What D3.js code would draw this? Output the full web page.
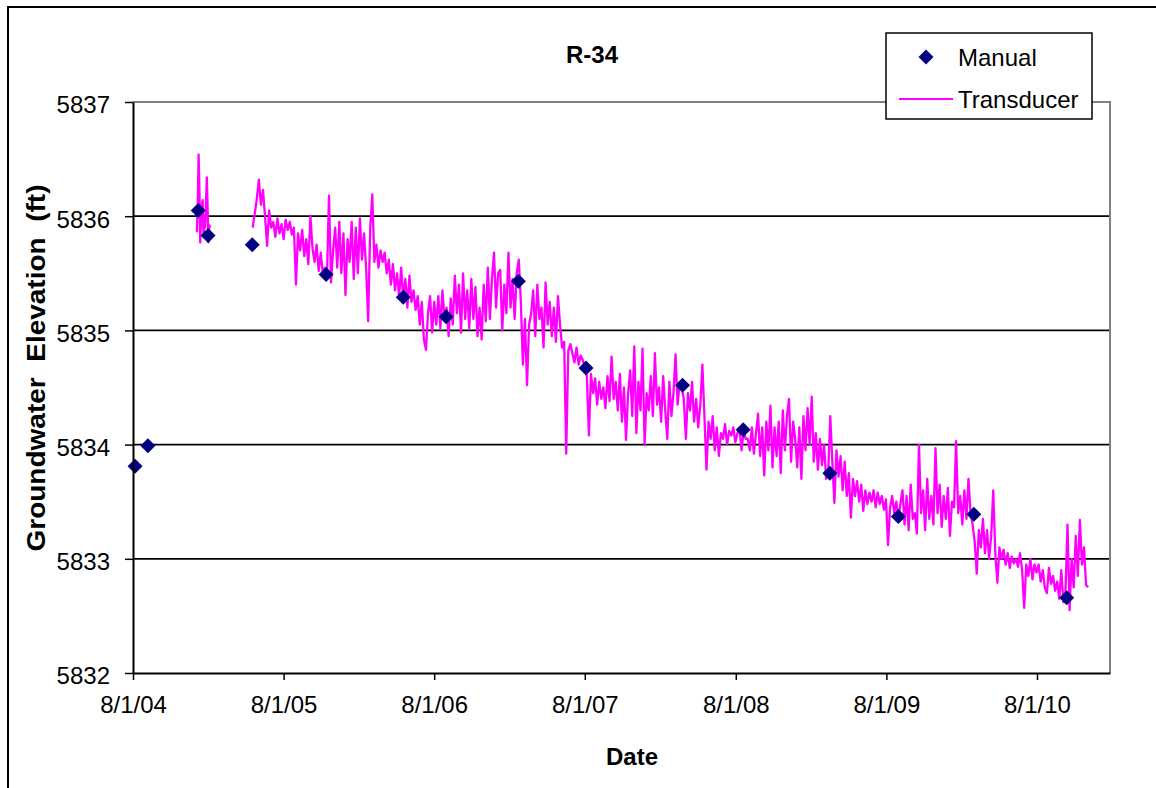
<!DOCTYPE html>
<html>
<head>
<meta charset="utf-8">
<script src="https://cdn.jsdelivr.net/npm/d3@7"></script>
<style>
  html, body { margin: 0; padding: 0; background: #fff; }
  svg { display: block; font-family: "Liberation Sans", Arial, sans-serif; }
</style>
</head>
<body>
<svg id="chart" width="1156" height="788"></svg>
<script>
// ---------------- DATA ----------------
const chartTitle = "R-34";
const xAxisTitle = "Date";
const yAxisTitle = "Groundwater  Elevation  (ft)";
const seriesNames = ["Manual", "Transducer"];

const yTickValues = [5832, 5833, 5834, 5835, 5836, 5837];
const xTickDates = ["2004-08-01", "2005-08-01", "2006-08-01", "2007-08-01", "2008-08-01", "2009-08-01", "2010-08-01"];
const xDomainDates = ["2004-08-01", "2011-01-25"];

// Manual measurements
const manualDates = ["2004-08-06", "2004-09-06", "2005-01-06", "2005-01-30", "2005-05-17", "2005-11-12",
  "2006-05-18", "2006-08-30", "2007-02-21", "2007-08-04", "2008-03-25", "2008-08-19",
  "2009-03-17", "2009-08-30", "2010-03-01", "2010-10-12"];
const manualValues = [5833.81, 5833.99, 5836.05, 5835.83, 5835.75, 5835.49,
  5835.29, 5835.12, 5835.43, 5834.67, 5834.52, 5834.13,
  5833.75, 5833.37, 5833.39, 5832.66];

// Transducer record, segment A (readings every 2 days)
const transducerAStart = "2005-01-03";
const transducerAStepDays = 2;
const transducerA = [5835.86, 5836.14, 5836.54, 5836.23, 5835.77, 5836.01, 5836.10, 5836.14, 5835.83,
  5835.95, 5835.90, 5836.14, 5836.34, 5836.05, 5835.77, 5835.92, 5835.90];

// Transducer record, segment B (readings every 5 days)
const transducerBStart = "2005-05-18";
const transducerBStepDays = 5;
const transducerB = [
  5835.90, 5836.02, 5836.15, 5836.32, 5836.10,
  5836.23, 5836.00, 5835.74, 5836.05, 5835.90,
  5835.95, 5835.82, 5835.98, 5835.85, 5835.93,
  5835.80, 5835.97, 5835.88, 5835.95, 5835.84,
  5835.90, 5835.40, 5835.85, 5835.70, 5835.88,
  5835.65, 5835.80, 5835.58, 5836.00, 5835.72,
  5835.60, 5835.75, 5835.52, 5835.68, 5835.50,
  5835.55, 5835.45, 5836.18, 5835.42, 5835.70,
  5835.90, 5835.55, 5835.95, 5835.50, 5835.85,
  5835.31, 5835.80, 5835.60, 5835.95, 5835.45,
  5835.90, 5835.50, 5835.98, 5835.62, 5835.85,
  5835.55, 5835.08, 5835.90, 5836.19, 5835.60,
  5835.75, 5835.55, 5835.70, 5835.60, 5835.68,
  5835.50, 5835.62, 5835.40, 5835.58, 5835.35,
  5835.50, 5835.30, 5835.55, 5835.28, 5835.45,
  5835.20, 5835.48, 5835.25, 5835.35, 5835.18,
  5835.30, 5835.05, 5835.25, 5834.92, 5834.83,
  5835.15, 5835.30, 5834.98, 5835.25, 5835.05,
  5835.30, 5835.02, 5835.35, 5835.10, 5835.20,
  5834.95, 5835.28, 5835.05, 5835.48, 5835.15,
  5835.40, 5834.98, 5835.50, 5835.10, 5835.35,
  5835.02, 5835.45, 5835.10, 5835.38, 5834.95,
  5835.20, 5834.92, 5835.40, 5835.08, 5835.55,
  5835.10, 5835.45, 5835.68, 5835.20, 5835.50,
  5835.53, 5835.00, 5835.40, 5835.15, 5835.68,
  5835.20, 5835.45, 5835.10, 5835.50, 5835.62,
  5835.25, 5834.70, 5835.10, 5834.52, 5835.05,
  5835.15, 5835.35, 5834.95, 5835.40, 5835.10,
  5835.20, 5834.85, 5835.42, 5835.05, 5835.25,
  5834.95, 5835.20, 5834.90, 5835.30, 5835.05,
  5834.85, 5834.90, 5833.92, 5834.82, 5834.88,
  5834.80, 5834.72, 5834.85, 5834.70, 5834.78,
  5834.74, 5834.68, 5834.60, 5834.08, 5834.62,
  5834.45, 5834.58, 5834.35, 5834.55, 5834.40,
  5834.50, 5834.32, 5834.60, 5834.38, 5834.77,
  5834.40, 5834.55, 5834.30, 5834.62, 5834.20,
  5834.50, 5834.04, 5834.45, 5834.65, 5834.25,
  5834.86, 5834.10, 5834.55, 5834.30, 5834.84,
  5834.00, 5834.45, 5834.30, 5834.60, 5834.25,
  5834.80, 5834.35, 5834.50, 5834.20, 5834.60,
  5834.30, 5834.05, 5834.55, 5834.25, 5834.45,
  5834.79, 5834.35, 5834.55, 5834.50, 5834.40,
  5834.05, 5834.45, 5834.30, 5834.55, 5834.20,
  5834.40, 5834.15, 5834.35, 5834.70, 5834.25,
  5833.78, 5834.20, 5834.05, 5834.25, 5833.95,
  5834.15, 5833.90, 5834.10, 5834.05, 5834.18,
  5834.00, 5834.12, 5834.08, 5834.15, 5834.02,
  5834.10, 5834.14, 5833.95, 5834.12, 5834.05,
  5834.05, 5833.95, 5834.15, 5833.92, 5834.10,
  5834.27, 5833.90, 5834.15, 5833.73, 5834.20,
  5833.95, 5834.34, 5833.80, 5834.15, 5833.90,
  5834.20, 5833.75, 5834.30, 5833.95, 5834.25,
  5834.40, 5833.85, 5834.20, 5834.05, 5833.80,
  5834.15, 5833.70, 5834.25, 5833.95, 5834.32,
  5834.00, 5834.42, 5833.85, 5834.10, 5833.78,
  5834.05, 5833.82, 5834.00, 5833.70, 5833.75,
  5834.25, 5833.85, 5833.49, 5833.95, 5833.72,
  5833.90, 5833.60, 5833.85, 5833.55, 5833.75,
  5833.36, 5833.70, 5833.55, 5833.68, 5833.50,
  5833.65, 5833.42, 5833.60, 5833.48, 5833.58,
  5833.50, 5833.60, 5833.45, 5833.58, 5833.48,
  5833.55, 5833.43, 5833.52, 5833.12, 5833.45,
  5833.55, 5833.40, 5833.50, 5833.35, 5833.48,
  5833.60, 5833.30, 5833.55, 5833.25, 5833.65,
  5833.35, 5833.40, 5833.22, 5834.00, 5833.40,
  5833.60, 5833.25, 5833.70, 5833.35, 5833.55,
  5833.30, 5833.97, 5833.40, 5833.65, 5833.28,
  5833.55, 5833.35, 5833.62, 5833.20, 5833.50,
  5833.45, 5834.03, 5833.40, 5833.55, 5833.30,
  5833.60, 5833.35, 5833.70, 5833.40, 5833.30,
  5833.15, 5832.87, 5833.25, 5833.10, 5833.35,
  5833.05, 5833.25, 5833.00, 5833.20, 5833.60,
  5833.05, 5832.79, 5833.10, 5833.00, 5833.08,
  5832.95, 5833.05, 5832.92, 5833.02, 5832.96,
  5833.00, 5832.93, 5833.05, 5832.90, 5832.57,
  5832.95, 5832.85, 5833.00, 5832.82, 5832.95,
  5832.88, 5832.95, 5832.80, 5832.90, 5832.75,
  5832.70, 5832.92, 5832.78, 5832.85, 5832.72,
  5832.80, 5832.65, 5832.90, 5832.62, 5832.70,
  5833.30, 5832.55, 5833.00, 5832.75, 5833.20,
  5832.85, 5833.34, 5832.95, 5833.10, 5832.77,
  5832.75
];

// ---------------- DRAW ----------------
const parse = d3.utcParse("%Y-%m-%d");
const fmt = d3.utcFormat("%-m/%-d/%y");
const svg = d3.select("#chart");
const FONT = 24;

const plotL = 133, plotR = 1110, plotT = 102, plotB = 673;

const x = d3.scaleUtc().domain(xDomainDates.map(parse)).range([plotL, plotR]);
const y = d3.scaleLinear().domain([yTickValues[0], yTickValues[yTickValues.length - 1]]).range([plotB, plotT]);

// chart frame
svg.append("rect").attr("x", 8).attr("y", 7).attr("width", 1160).attr("height", 800)
  .attr("fill", "#fff").attr("stroke", "#000").attr("stroke-width", 2);

// gridlines
svg.append("g").selectAll("line")
  .data(yTickValues.slice(1, -1))
  .join("line")
  .attr("x1", plotL).attr("x2", plotR)
  .attr("y1", d => y(d)).attr("y2", d => y(d))
  .attr("stroke", "#000").attr("stroke-width", 1.8);

// plot area border (top & right, grey)
svg.append("path")
  .attr("d", `M${plotL},${y(yTickValues[yTickValues.length - 1])}H${plotR}V${plotB}`)
  .attr("fill", "none").attr("stroke", "#808080").attr("stroke-width", 2);

// transducer series
function segment(start, step, vals) {
  const s = parse(start);
  return vals.map((v, i) => ({ date: d3.utcDay.offset(s, i * step), value: v }));
}
const segs = [
  segment(transducerAStart, transducerAStepDays, transducerA),
  segment(transducerBStart, transducerBStepDays, transducerB)
];
const line = d3.line().x(d => x(d.date)).y(d => y(d.value));
svg.append("g").selectAll("path")
  .data(segs)
  .join("path")
  .attr("d", line)
  .attr("fill", "none").attr("stroke", "#FF00FF").attr("stroke-width", 2.3)
  .attr("stroke-linejoin", "round");

// manual diamonds
const manual = manualDates.map((d, i) => ({ date: parse(d), value: manualValues[i] }));
const diamond = (cx, cy, r) => `M${cx},${cy - r}L${cx + r},${cy}L${cx},${cy + r}L${cx - r},${cy}Z`;
svg.append("g").selectAll("path")
  .data(manual)
  .join("path")
  .attr("d", d => diamond(x(d.date), y(d.value), 7.5))
  .attr("fill", "#000080");

// axes
const yAxis = d3.axisLeft(y).tickValues(yTickValues).tickSize(8).tickSizeOuter(0).tickPadding(15).tickFormat(d3.format("d"));
const gy = svg.append("g").attr("transform", `translate(${plotL},0)`).call(yAxis);
gy.select(".domain").attr("stroke", "#000").attr("stroke-width", 2);
gy.selectAll(".tick line").attr("stroke", "#000").attr("stroke-width", 1.5);
gy.selectAll(".tick text").attr("font-size", FONT).attr("font-family", "Liberation Sans, Arial, sans-serif")
  .attr("fill", "#000").attr("dy", "0.45em");

const xAxis = d3.axisBottom(x).tickValues(xTickDates.map(parse)).tickSize(7).tickSizeOuter(0).tickPadding(16).tickFormat(fmt);
const gx = svg.append("g").attr("transform", `translate(0,${plotB})`).call(xAxis);
gx.select(".domain").attr("stroke", "#000").attr("stroke-width", 2);
gx.selectAll(".tick line").attr("stroke", "#000").attr("stroke-width", 1.5);
gx.selectAll(".tick text").attr("font-size", FONT).attr("font-family", "Liberation Sans, Arial, sans-serif")
  .attr("fill", "#000");

// titles
svg.append("text").attr("x", 592).attr("y", 63).attr("text-anchor", "middle")
  .attr("font-size", FONT).attr("font-weight", "bold").text(chartTitle);
svg.append("text").attr("x", 632).attr("y", 765).attr("text-anchor", "middle")
  .attr("font-size", FONT).attr("font-weight", "bold").text(xAxisTitle);
svg.append("text").attr("transform", "translate(45,368) rotate(-90) scale(1.12,1)").attr("text-anchor", "middle")
  .attr("font-size", 25).attr("font-weight", "bold").style("white-space", "pre").text(yAxisTitle);

// legend
const lg = svg.append("g");
lg.append("rect").attr("x", 886).attr("y", 33).attr("width", 206).attr("height", 86)
  .attr("fill", "#fff").attr("stroke", "#000").attr("stroke-width", 1.5);
lg.append("path").attr("d", diamond(926, 57, 7.5)).attr("fill", "#000080");
lg.append("text").attr("x", 958).attr("y", 66).attr("font-size", FONT).text(seriesNames[0]);
lg.append("line").attr("x1", 899).attr("x2", 953).attr("y1", 99).attr("y2", 99)
  .attr("stroke", "#FF00FF").attr("stroke-width", 1.8);
lg.append("text").attr("x", 958).attr("y", 108).attr("font-size", FONT).text(seriesNames[1]);
</script>
</body>
</html>
